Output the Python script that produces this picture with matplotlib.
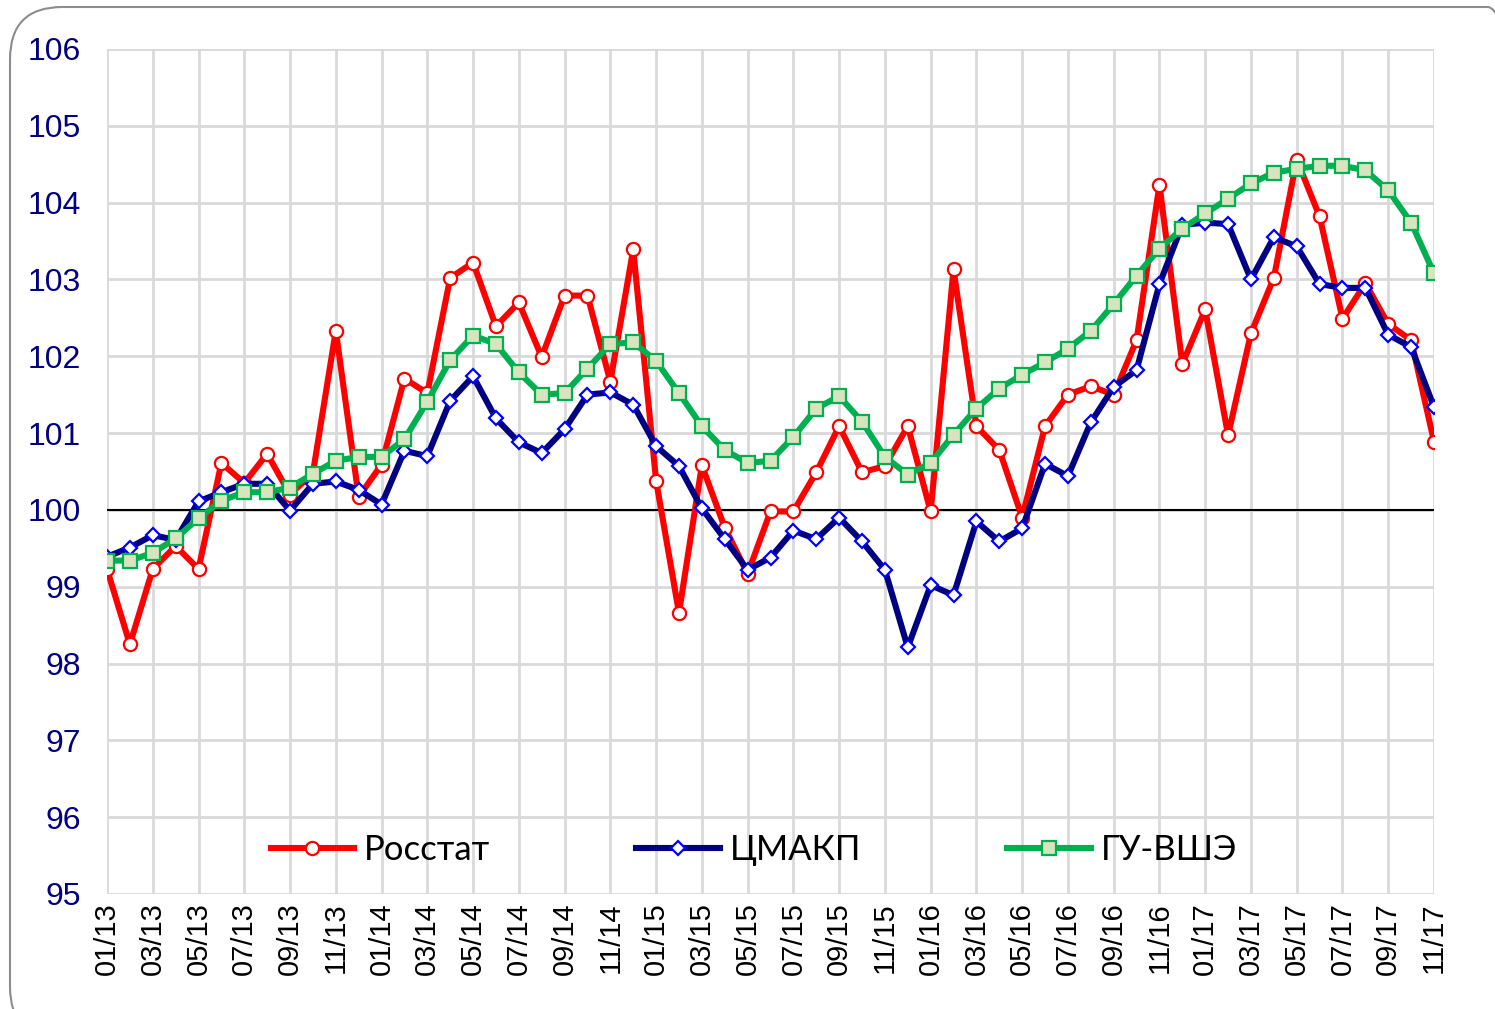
import matplotlib

matplotlib.use("Agg")
import matplotlib.pyplot as plt
from matplotlib.patches import FancyBboxPatch

months = [
    "01/13", "02/13", "03/13", "04/13", "05/13", "06/13", "07/13", "08/13", "09/13", "10/13", "11/13", "12/13",
    "01/14", "02/14", "03/14", "04/14", "05/14", "06/14", "07/14", "08/14", "09/14", "10/14", "11/14", "12/14",
    "01/15", "02/15", "03/15", "04/15", "05/15", "06/15", "07/15", "08/15", "09/15", "10/15", "11/15", "12/15",
    "01/16", "02/16", "03/16", "04/16", "05/16", "06/16", "07/16", "08/16", "09/16", "10/16", "11/16", "12/16",
    "01/17", "02/17", "03/17", "04/17", "05/17", "06/17", "07/17", "08/17", "09/17", "10/17", "11/17",
]

rosstat = [
    99.23, 98.25, 99.23, 99.53, 99.23, 100.61, 100.35, 100.73, 100.20, 100.48, 102.33, 100.17,
    100.59, 101.71, 101.52, 103.02, 103.22, 102.39, 102.70, 101.99, 102.79, 102.79, 101.67, 103.39,
    100.38, 98.66, 100.58, 99.77, 99.17, 99.98, 99.98, 100.49, 101.09, 100.49, 100.57, 101.09,
    99.98, 103.13, 101.09, 100.78, 99.90, 101.09, 101.50, 101.61, 101.50, 102.21, 104.23, 101.90,
    102.61, 100.97, 102.30, 103.02, 104.56, 103.82, 102.49, 102.95, 102.42, 102.21, 100.89,
]

cmakp = [
    99.39, 99.51, 99.67, 99.61, 100.11, 100.23, 100.34, 100.34, 99.99, 100.34, 100.37, 100.26,
    100.07, 100.77, 100.70, 101.42, 101.74, 101.19, 100.88, 100.74, 101.05, 101.50, 101.53, 101.37,
    100.83, 100.57, 100.02, 99.62, 99.22, 99.38, 99.73, 99.62, 99.90, 99.59, 99.22, 98.21,
    99.02, 98.89, 99.85, 99.59, 99.76, 100.60, 100.44, 101.14, 101.60, 101.82, 102.94, 103.71,
    103.74, 103.72, 103.00, 103.55, 103.43, 102.94, 102.89, 102.89, 102.28, 102.12, 101.34,
]

hse = [
    99.34, 99.34, 99.44, 99.63, 99.89, 100.12, 100.23, 100.23, 100.29, 100.47, 100.64, 100.69,
    100.69, 100.92, 101.41, 101.95, 102.27, 102.16, 101.79, 101.50, 101.52, 101.84, 102.16, 102.18,
    101.94, 101.52, 101.09, 100.78, 100.61, 100.64, 100.95, 101.32, 101.48, 101.15, 100.69, 100.46,
    100.61, 100.98, 101.32, 101.58, 101.76, 101.92, 102.10, 102.33, 102.68, 103.05, 103.40, 103.66,
    103.86, 104.05, 104.25, 104.39, 104.44, 104.48, 104.48, 104.42, 104.16, 103.74, 103.08,
]

series_names = ["Росстат", "ЦМАКП", "ГУ-ВШЭ"]
y_ticks = list(range(95, 107))


def main() -> None:
    plt.rcParams["font.family"] = ["Liberation Sans", "DejaVu Sans"]
    fig = plt.figure(figsize=(14.95, 10.09), dpi=100)
    ax = fig.add_axes([107 / 1495, 1 - 894 / 1009, (1434 - 107) / 1495, (894 - 49) / 1009])

    # rounded outer frame, running off the right and bottom edges
    frame = FancyBboxPatch(
        (10 / 1495, -30 / 1009), 1530 / 1495, 1032 / 1009,
        boxstyle="round,pad=0,rounding_size=0.035",
        transform=fig.transFigure, facecolor="none", edgecolor="#8c8c8c",
        linewidth=1.5, clip_on=False, mutation_aspect=1495 / 1009,
    )
    fig.patches.append(frame)

    x = list(range(len(months)))
    ax.plot(x, rosstat, color="#FF0000", lw=4.4, marker="o", ms=9.5,
            mfc="white", mec="#FF0000", mew=1.6, zorder=3, label=series_names[0])
    ax.plot(x, cmakp, color="#000080", lw=4.4, marker="D", ms=7.5,
            mfc="white", mec="#0000FF", mew=1.6, zorder=4, label=series_names[1])
    ax.plot(x, hse, color="#00B050", lw=4.4, marker="s", ms=9.5,
            mfc="#D7E4BD", mec="#00B050", mew=1.6, zorder=5, label=series_names[2])
    ax.axhline(100, color="black", lw=1.5, zorder=2)

    ax.set_xlim(0, len(months) - 1)
    ax.set_ylim(95, 106)
    ax.set_xticks(x[::2])
    ax.set_xticklabels(months[::2], rotation=90, fontsize=21)
    ax.set_yticks(y_ticks)
    ax.set_yticklabels([str(v) for v in y_ticks], fontsize=23, color="#000080")
    ax.tick_params(axis="both", length=0)
    ax.tick_params(axis="y", pad=19)
    ax.tick_params(axis="x", pad=6)
    ax.grid(True, color="#D9D9D9", lw=2, zorder=0)
    for side in ax.spines.values():
        side.set_visible(False)

    fig.legend(
        loc="center", bbox_to_anchor=(754 / 1495, 1 - 850 / 1009), ncol=3,
        frameon=False, prop={"family": ["Lato", "DejaVu Sans"], "size": 25},
        handlelength=2.4, handletextpad=0.3, columnspacing=4.2,
    )

    fig.savefig("out.png", dpi=100)
    plt.close(fig)


if __name__ == "__main__":
    main()
